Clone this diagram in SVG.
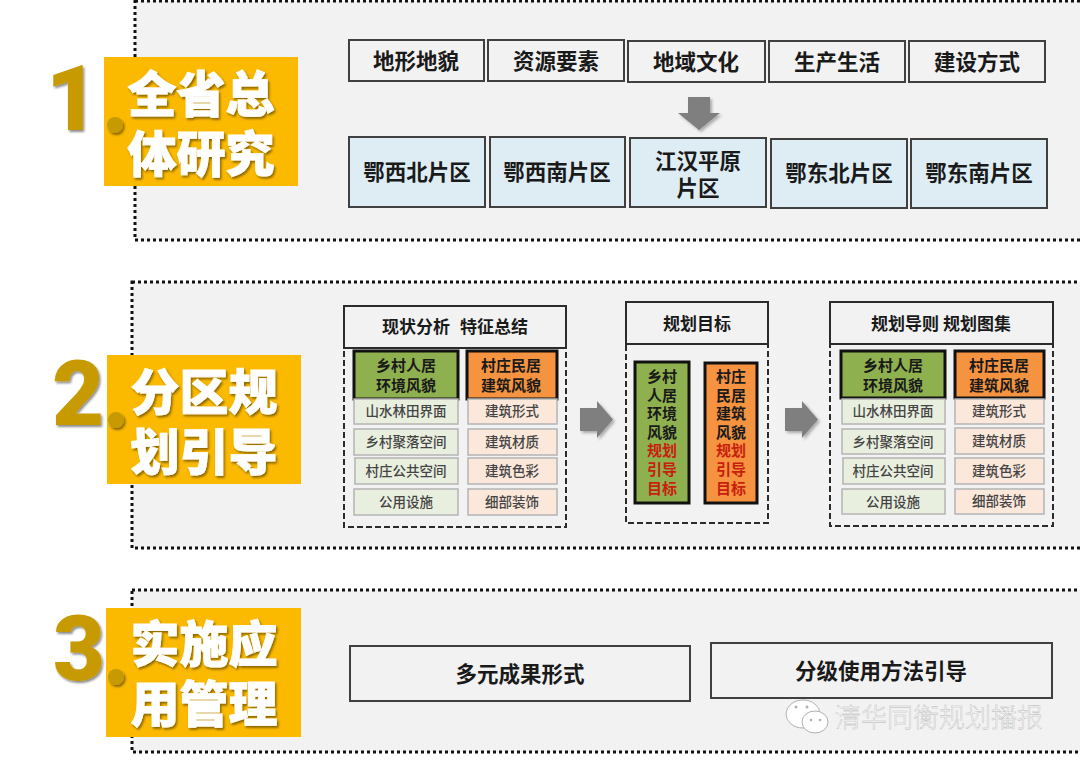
<svg xmlns="http://www.w3.org/2000/svg" width="1080" height="766" viewBox="0 0 1080 766">
<style>
text{font-family:"Noto Sans CJK SC","Liberation Sans",sans-serif;font-weight:700;text-anchor:middle;fill:#1a1a1a}
.panel{fill:#f2f2f2;stroke:#111;stroke-width:3;stroke-dasharray:3 3}
.box{fill:#f2f2f2;stroke:#404040;stroke-width:2}
.blue{fill:#deedf4;stroke:#404040;stroke-width:2}
.tag{fill:#fbb900}
.num{font-family:Roboto,"Liberation Sans",sans-serif;font-size:90px;font-weight:900;fill:#c69a00;filter:url(#sh)}
.dot{fill:#c69a00;filter:url(#sh)}
.lab{font-size:49px;fill:#fff;font-weight:900;stroke:#fff;stroke-width:.8;filter:url(#sh)}
.t22{font-size:21.5px}
.t18{font-size:15px}.t15{font-size:13.5px;font-weight:500;fill:#444}
.hd{font-size:17px}
.head{fill:#f2f2f2;stroke:#2b2b2b;stroke-width:2}
.dash{fill:none;stroke:#2b2b2b;stroke-width:2;stroke-dasharray:6 3}
.gh{fill:#8fb04f;stroke:#111;stroke-width:3}
.oh{fill:#f59340;stroke:#111;stroke-width:3}
.gr{fill:#e9efdf;stroke:#b4b4b4;stroke-width:1.5}
.or{fill:#fbe8da;stroke:#b4b4b4;stroke-width:1.5}
.v{font-size:15px}
.red{fill:#c8200f}
.arrow{fill:#7f7f7f;filter:url(#ash)}
.wm{font-size:26px;font-weight:300;fill:#fff;stroke:#b4b4b4;stroke-width:.4}
.wi{fill:#fff;stroke:#b0b0b0;stroke-width:1}
.wd{fill:#b0b0b0}
</style>
<defs>
<filter id="sh" x="-20%" y="-20%" width="140%" height="140%"><feDropShadow dx="1.5" dy="2" stdDeviation="1" flood-color="#000" flood-opacity=".45"/></filter>
<filter id="ash" x="-30%" y="-30%" width="160%" height="160%"><feDropShadow dx="2" dy="2" stdDeviation="1.5" flood-color="#000" flood-opacity=".3"/></filter>
</defs>

<g id="panels">
<rect class="panel" x="135" y="1" width="950" height="239"/>
<rect class="panel" x="132" y="282" width="953" height="266"/>
<rect class="panel" x="132" y="590" width="953" height="162"/>
</g>

<g id="section1-title">
<rect class="tag" x="104" y="57" width="194" height="129"/>
<text class="num" x="72" y="130">1</text>
<circle class="dot" cx="115" cy="125" r="8"/>
<text class="lab" x="201" y="112">全省总</text>
<text class="lab" x="201" y="172">体研究</text>
</g>
<g id="section2-title">
<rect class="tag" x="107" y="355" width="194" height="129"/>
<text class="num" x="78" y="425">2</text>
<circle class="dot" cx="116" cy="420" r="8"/>
<text class="lab" x="204" y="410">分区规</text>
<text class="lab" x="204" y="470">划引导</text>
</g>
<g id="section3-title">
<rect class="tag" x="106" y="608" width="195" height="129"/>
<text class="num" x="79" y="680">3</text>
<circle class="dot" cx="116" cy="677" r="8"/>
<text class="lab" x="204" y="662">实施应</text>
<text class="lab" x="204" y="722">用管理</text>
</g>

<g id="factors">
<g id="f1"><rect class="box" x="349" y="40" width="135" height="41"/><text class="t22" x="416" y="69">地形地貌</text></g>
<g id="f2"><rect class="box" x="488" y="40" width="136" height="41"/><text class="t22" x="556" y="69">资源要素</text></g>
<g id="f3"><rect class="box" x="628" y="41" width="137" height="41"/><text class="t22" x="696" y="70">地域文化</text></g>
<g id="f4"><rect class="box" x="769" y="41" width="136" height="41"/><text class="t22" x="837" y="70">生产生活</text></g>
<g id="f5"><rect class="box" x="909" y="41" width="136" height="41"/><text class="t22" x="977" y="70">建设方式</text></g>
</g>
<g id="regions">
<g id="r1"><rect class="blue" x="349" y="137" width="136" height="70"/><text class="t22" x="417" y="180">鄂西北片区</text></g>
<g id="r2"><rect class="blue" x="490" y="137" width="135" height="70"/><text class="t22" x="557" y="180">鄂西南片区</text></g>
<g id="r3"><rect class="blue" x="630" y="138" width="136" height="69"/><text class="t22" x="698" y="169">江汉平原</text><text class="t22" x="698" y="196">片区</text></g>
<g id="r4"><rect class="blue" x="771" y="139" width="136" height="69"/><text class="t22" x="839" y="181">鄂东北片区</text></g>
<g id="r5"><rect class="blue" x="911" y="139" width="136" height="69"/><text class="t22" x="979" y="181">鄂东南片区</text></g>
</g>

<g id="connectors">
<polygon class="arrow" points="688,97 710,97 710,113 720,113 699,130 678,113 688,113"/>
<polygon class="arrow" points="580,408 597,408 597,401 613,419.5 597,438 597,431 580,431"/>
<polygon class="arrow" points="785,408 802,408 802,401 818,419.5 802,438 802,431 785,431"/>
</g>

<g id="analysis">
<rect class="dash" x="344" y="340" width="222" height="187"/>
<rect class="head" x="344" y="306" width="222" height="42"/>
<text class="hd" x="416" y="333">现状分析</text><text class="hd" x="494" y="333">特征总结</text>
<rect class="gh" x="354" y="351" width="104" height="48"/>
<text class="t18" x="406" y="371">乡村人居</text><text class="t18" x="406" y="391">环境风貌</text>
<rect class="oh" x="467" y="351" width="90" height="48"/>
<text class="t18" x="511" y="371">村庄民居</text><text class="t18" x="511" y="391">建筑风貌</text>
<rect class="gr" x="354" y="399" width="104" height="25"/><text class="t15" x="406" y="416">山水林田界面</text>
<rect class="gr" x="354" y="429" width="104" height="26"/><text class="t15" x="406" y="447">乡村聚落空间</text>
<rect class="gr" x="355" y="458" width="103" height="26"/><text class="t15" x="406" y="476">村庄公共空间</text>
<rect class="gr" x="354" y="489" width="104" height="26"/><text class="t15" x="406" y="507">公用设施</text>
<rect class="or" x="468" y="399" width="89" height="25"/><text class="t15" x="512" y="416">建筑形式</text>
<rect class="or" x="468" y="429" width="89" height="26"/><text class="t15" x="512" y="447">建筑材质</text>
<rect class="or" x="468" y="458" width="89" height="26"/><text class="t15" x="512" y="476">建筑色彩</text>
<rect class="or" x="468" y="489" width="89" height="26"/><text class="t15" x="512" y="507">细部装饰</text>
</g>

<g id="goals">
<rect class="dash" x="626" y="340" width="142" height="183"/>
<rect class="head" x="626" y="302" width="142" height="42"/>
<text class="hd" x="697" y="330">规划目标</text>
<rect class="gh" x="635" y="362" width="54" height="141"/>
<rect class="oh" x="705" y="363" width="52" height="140"/>
<g class="v">
<text class="v" x="662" y="382">乡村</text><text class="v" x="662" y="401">人居</text><text class="v" x="662" y="419">环境</text><text class="v" x="662" y="438">风貌</text>
<text class="v red" x="662" y="456" style="fill:#c8200f">规划</text><text class="v" x="662" y="475" style="fill:#c8200f">引导</text><text class="v" x="662" y="494" style="fill:#c8200f">目标</text>
<text class="v" x="731" y="382">村庄</text><text class="v" x="731" y="401">民居</text><text class="v" x="731" y="419">建筑</text><text class="v" x="731" y="438">风貌</text>
<text class="v" x="731" y="456" style="fill:#c8200f">规划</text><text class="v" x="731" y="475" style="fill:#c8200f">引导</text><text class="v" x="731" y="494" style="fill:#c8200f">目标</text>
</g>
</g>

<g id="guides">
<rect class="dash" x="830" y="340" width="223" height="186"/>
<rect class="head" x="830" y="302" width="223" height="42"/>
<text class="hd" x="941" y="330">规划导则 规划图集</text>
<rect class="gh" x="841" y="351" width="104" height="47"/>
<text class="t18" x="893" y="371">乡村人居</text><text class="t18" x="893" y="391">环境风貌</text>
<rect class="oh" x="955" y="351" width="89" height="47"/>
<text class="t18" x="999" y="371">村庄民居</text><text class="t18" x="999" y="391">建筑风貌</text>
<rect class="gr" x="842" y="399" width="103" height="25"/><text class="t15" x="893" y="416">山水林田界面</text>
<rect class="gr" x="842" y="429" width="103" height="25"/><text class="t15" x="893" y="447">乡村聚落空间</text>
<rect class="gr" x="843" y="458" width="102" height="26"/><text class="t15" x="893" y="476">村庄公共空间</text>
<rect class="gr" x="842" y="489" width="103" height="25"/><text class="t15" x="893" y="507">公用设施</text>
<rect class="or" x="955" y="399" width="89" height="25"/><text class="t15" x="999" y="416">建筑形式</text>
<rect class="or" x="955" y="428" width="89" height="26"/><text class="t15" x="999" y="446">建筑材质</text>
<rect class="or" x="955" y="458" width="89" height="26"/><text class="t15" x="999" y="476">建筑色彩</text>
<rect class="or" x="955" y="489" width="89" height="25"/><text class="t15" x="999" y="506">细部装饰</text>
</g>

<g id="application">
<g id="a1"><rect class="box" x="350" y="646" width="340" height="55"/><text class="t22" x="520" y="682">多元成果形式</text></g>
<g id="a2"><rect class="box" x="711" y="643" width="341" height="55"/><text class="t22" x="881" y="679">分级使用方法引导</text></g>
</g>

<g id="watermark">
<ellipse class="wi" cx="803" cy="714" rx="17" ry="14"/>
<ellipse class="wi" cx="815" cy="722" rx="13" ry="11"/>
<circle class="wd" cx="796" cy="707" r="1.5"/><circle class="wd" cx="807" cy="707" r="1.5"/>
<circle class="wd" cx="811" cy="720" r="1.3"/><circle class="wd" cx="820" cy="720" r="1.3"/>
<text class="wm" x="939" y="727">清华同衡规划播报</text>
</g>
</svg>
